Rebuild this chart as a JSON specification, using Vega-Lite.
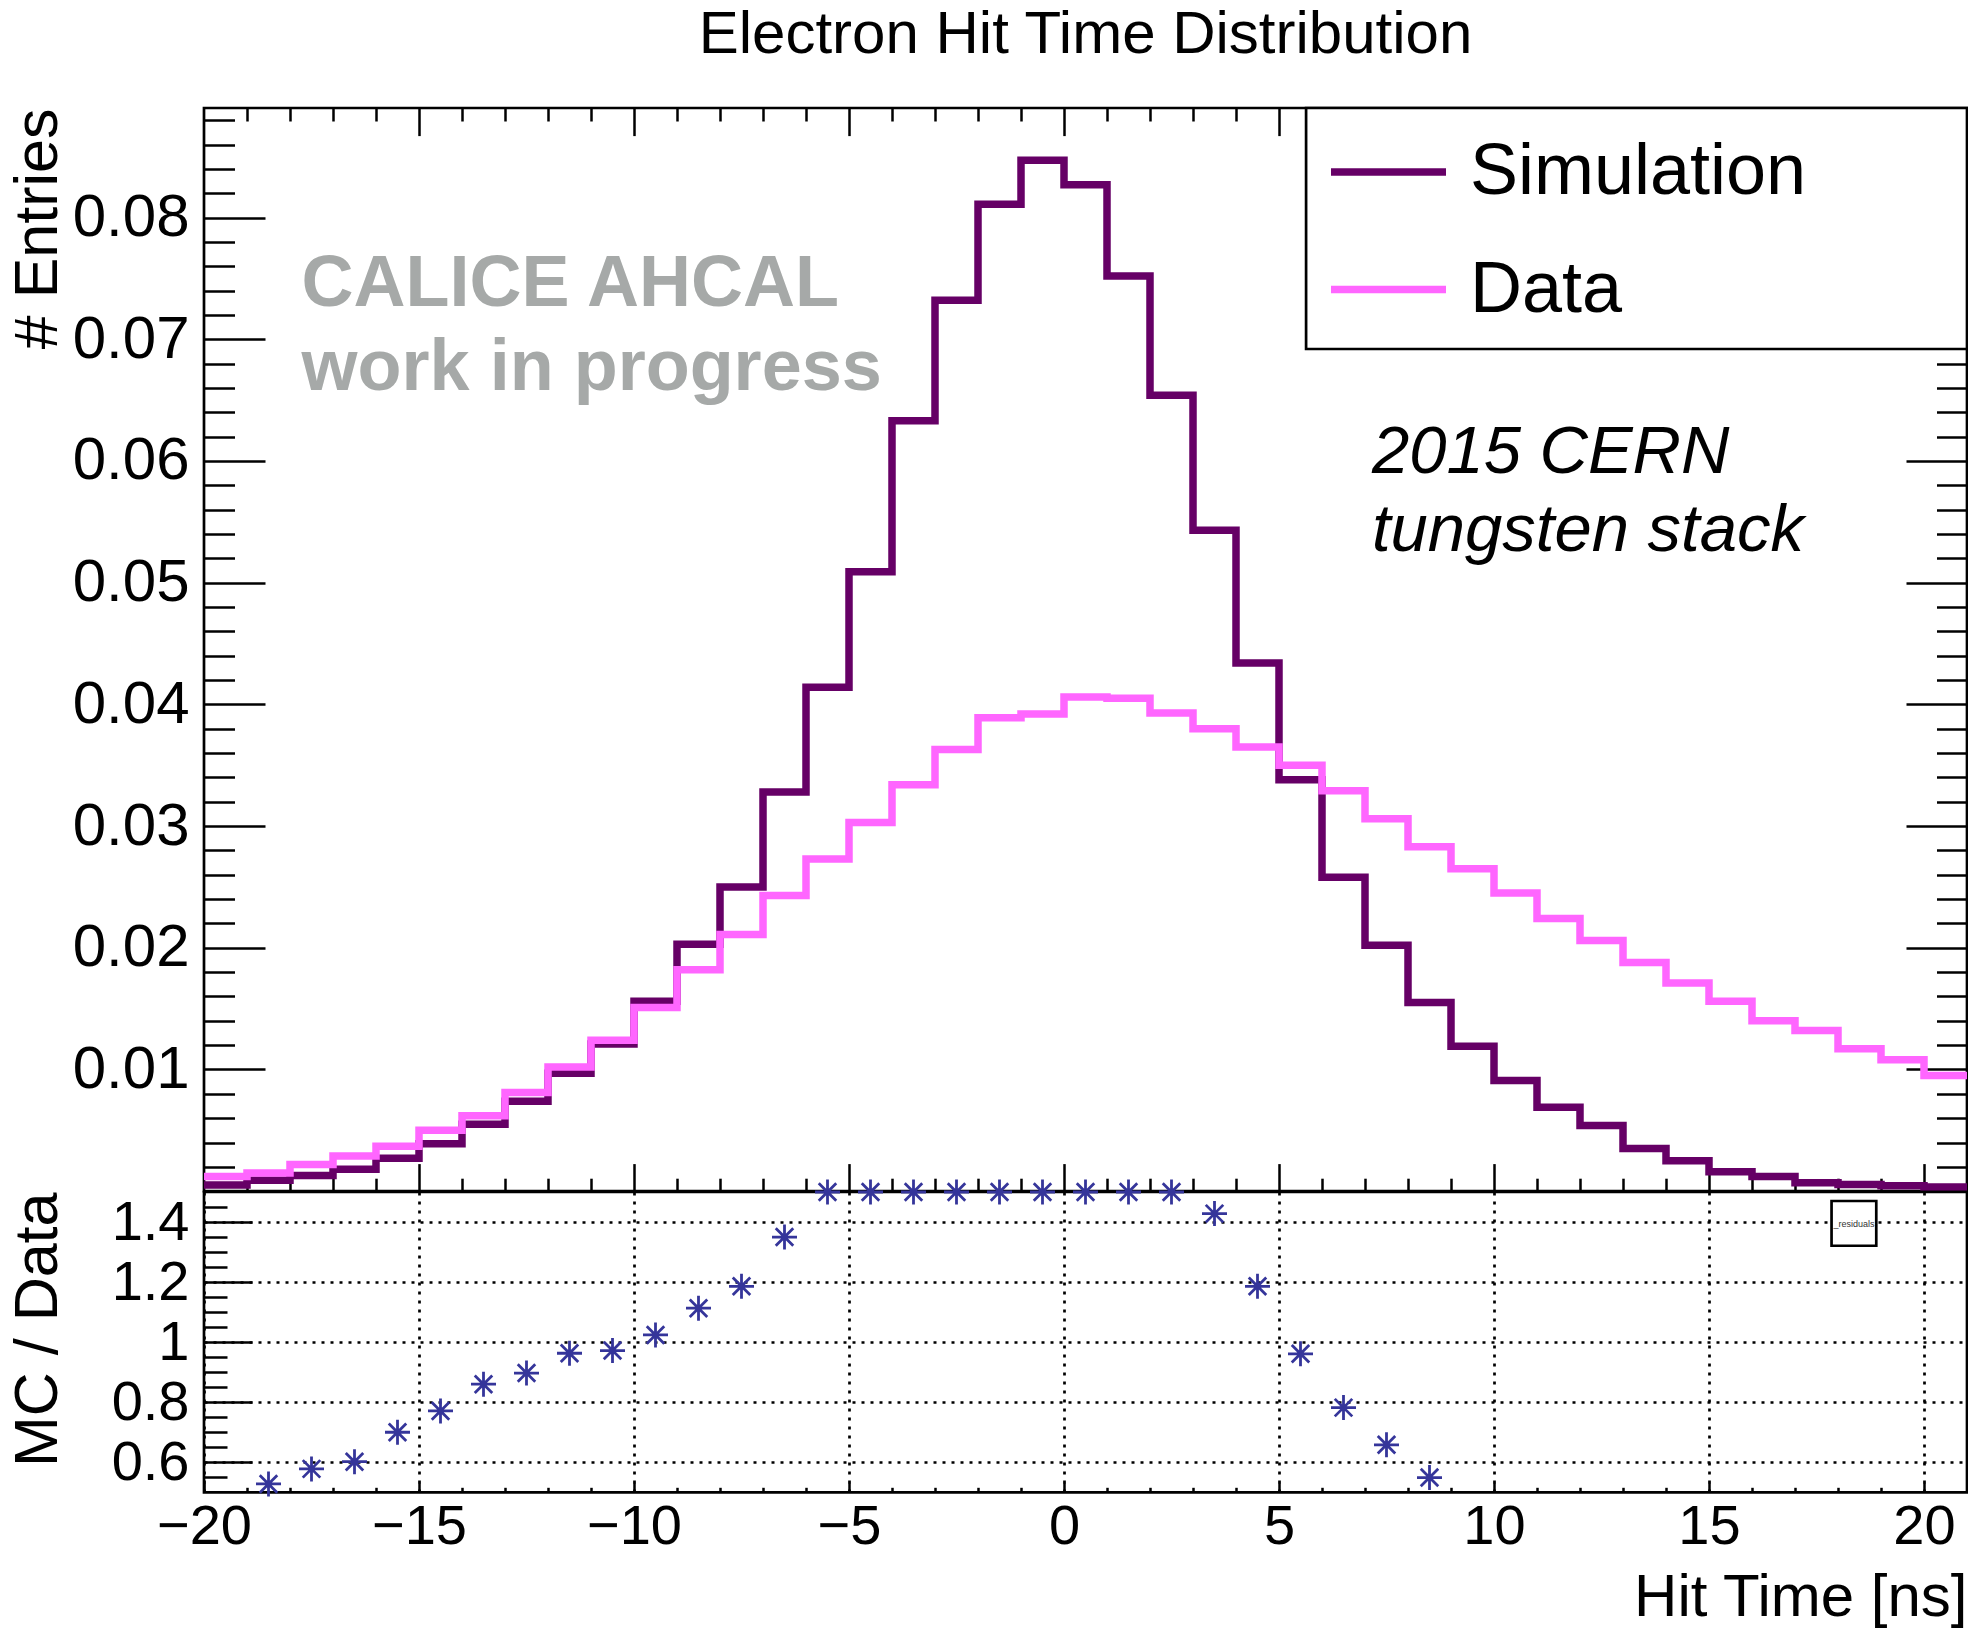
{
  "$schema": "https://vega.github.io/schema/vega-lite/v6.json",
  "background": "white",
  "autosize": {"type": "pad"},
  "padding": {"left": 5, "top": 3, "right": 0, "bottom": 0},
  "datasets": {
    "hist": [
      {"t": -20, "series": "Simulation", "value": 0.0005},
      {"t": -19, "series": "Simulation", "value": 0.0009},
      {"t": -18, "series": "Simulation", "value": 0.0013},
      {"t": -17, "series": "Simulation", "value": 0.0018},
      {"t": -16, "series": "Simulation", "value": 0.0027},
      {"t": -15, "series": "Simulation", "value": 0.0039},
      {"t": -14, "series": "Simulation", "value": 0.0055},
      {"t": -13, "series": "Simulation", "value": 0.0074},
      {"t": -12, "series": "Simulation", "value": 0.0097},
      {"t": -11, "series": "Simulation", "value": 0.0121},
      {"t": -10, "series": "Simulation", "value": 0.0156},
      {"t": -9, "series": "Simulation", "value": 0.0203},
      {"t": -8, "series": "Simulation", "value": 0.0250},
      {"t": -7, "series": "Simulation", "value": 0.0328},
      {"t": -6, "series": "Simulation", "value": 0.0414},
      {"t": -5, "series": "Simulation", "value": 0.0509},
      {"t": -4, "series": "Simulation", "value": 0.0633},
      {"t": -3, "series": "Simulation", "value": 0.0732},
      {"t": -2, "series": "Simulation", "value": 0.0811},
      {"t": -1, "series": "Simulation", "value": 0.0847},
      {"t": 0, "series": "Simulation", "value": 0.0827},
      {"t": 1, "series": "Simulation", "value": 0.0752},
      {"t": 2, "series": "Simulation", "value": 0.0654},
      {"t": 3, "series": "Simulation", "value": 0.0543},
      {"t": 4, "series": "Simulation", "value": 0.0434},
      {"t": 5, "series": "Simulation", "value": 0.0338},
      {"t": 6, "series": "Simulation", "value": 0.0258},
      {"t": 7, "series": "Simulation", "value": 0.0202},
      {"t": 8, "series": "Simulation", "value": 0.0155},
      {"t": 9, "series": "Simulation", "value": 0.0119},
      {"t": 10, "series": "Simulation", "value": 0.0091},
      {"t": 11, "series": "Simulation", "value": 0.0069},
      {"t": 12, "series": "Simulation", "value": 0.0054},
      {"t": 13, "series": "Simulation", "value": 0.0035},
      {"t": 14, "series": "Simulation", "value": 0.0025},
      {"t": 15, "series": "Simulation", "value": 0.0016},
      {"t": 16, "series": "Simulation", "value": 0.0012},
      {"t": 17, "series": "Simulation", "value": 0.0007},
      {"t": 18, "series": "Simulation", "value": 0.00055},
      {"t": 19, "series": "Simulation", "value": 0.00045},
      {"t": 20, "series": "Simulation", "value": 0.00035},
      {"t": 21, "series": "Simulation", "value": 0.00035},
      {"t": -20, "series": "Data", "value": 0.0012},
      {"t": -19, "series": "Data", "value": 0.0015},
      {"t": -18, "series": "Data", "value": 0.0022},
      {"t": -17, "series": "Data", "value": 0.0029},
      {"t": -16, "series": "Data", "value": 0.0037},
      {"t": -15, "series": "Data", "value": 0.0050},
      {"t": -14, "series": "Data", "value": 0.0062},
      {"t": -13, "series": "Data", "value": 0.0081},
      {"t": -12, "series": "Data", "value": 0.0102},
      {"t": -11, "series": "Data", "value": 0.0124},
      {"t": -10, "series": "Data", "value": 0.0151},
      {"t": -9, "series": "Data", "value": 0.0182},
      {"t": -8, "series": "Data", "value": 0.0211},
      {"t": -7, "series": "Data", "value": 0.0243},
      {"t": -6, "series": "Data", "value": 0.0273},
      {"t": -5, "series": "Data", "value": 0.0303},
      {"t": -4, "series": "Data", "value": 0.0334},
      {"t": -3, "series": "Data", "value": 0.0363},
      {"t": -2, "series": "Data", "value": 0.0389},
      {"t": -1, "series": "Data", "value": 0.0392},
      {"t": 0, "series": "Data", "value": 0.0406},
      {"t": 1, "series": "Data", "value": 0.0405},
      {"t": 2, "series": "Data", "value": 0.0393},
      {"t": 3, "series": "Data", "value": 0.0380},
      {"t": 4, "series": "Data", "value": 0.0365},
      {"t": 5, "series": "Data", "value": 0.0350},
      {"t": 6, "series": "Data", "value": 0.0329},
      {"t": 7, "series": "Data", "value": 0.0306},
      {"t": 8, "series": "Data", "value": 0.0283},
      {"t": 9, "series": "Data", "value": 0.0265},
      {"t": 10, "series": "Data", "value": 0.0245},
      {"t": 11, "series": "Data", "value": 0.0224},
      {"t": 12, "series": "Data", "value": 0.0206},
      {"t": 13, "series": "Data", "value": 0.0188},
      {"t": 14, "series": "Data", "value": 0.0171},
      {"t": 15, "series": "Data", "value": 0.0156},
      {"t": 16, "series": "Data", "value": 0.0140},
      {"t": 17, "series": "Data", "value": 0.0132},
      {"t": 18, "series": "Data", "value": 0.0117},
      {"t": 19, "series": "Data", "value": 0.0108},
      {"t": 20, "series": "Data", "value": 0.0095},
      {"t": 21, "series": "Data", "value": 0.0095}
    ],
    "ratio": [
      {"t": -18.5, "r": 0.528},
      {"t": -17.5, "r": 0.578},
      {"t": -16.5, "r": 0.602},
      {"t": -15.5, "r": 0.700},
      {"t": -14.5, "r": 0.771},
      {"t": -13.5, "r": 0.860},
      {"t": -12.5, "r": 0.897},
      {"t": -11.5, "r": 0.963},
      {"t": -10.5, "r": 0.972},
      {"t": -9.5, "r": 1.024},
      {"t": -8.5, "r": 1.113},
      {"t": -7.5, "r": 1.186},
      {"t": -6.5, "r": 1.350},
      {"t": -5.5, "r": 1.5},
      {"t": -4.5, "r": 1.5},
      {"t": -3.5, "r": 1.5},
      {"t": -2.5, "r": 1.5},
      {"t": -1.5, "r": 1.5},
      {"t": -0.5, "r": 1.5},
      {"t": 0.5, "r": 1.5},
      {"t": 1.5, "r": 1.5},
      {"t": 2.5, "r": 1.5},
      {"t": 3.5, "r": 1.428},
      {"t": 4.5, "r": 1.186},
      {"t": 5.5, "r": 0.961},
      {"t": 6.5, "r": 0.782},
      {"t": 7.5, "r": 0.658},
      {"t": 8.5, "r": 0.549}
    ]
  },
  "spacing": 0,
  "bounds": "flush",
  "resolve": {"scale": {"color": "independent"}},
  "vconcat": [
    {
      "width": 1763,
      "height": 1083.2,
      "title": {"text": "Electron Hit Time Distribution", "fontSize": 60, "font": "Liberation Sans", "fontWeight": "normal", "color": "black", "anchor": "middle", "frame": "group", "offset": 41},
      "resolve": {"axis": {"x": "independent", "y": "independent"}},
      "layer": [
        {
          "data": {"name": "hist"},
          "transform": [{"filter": "datum.series === 'Simulation'"}],
          "mark": {"type": "line", "interpolate": "step-after", "strokeWidth": 7.5, "strokeJoin": "miter", "clip": true},
          "encoding": {
            "x": {"field": "t", "type": "quantitative", "scale": {"domain": [-20, 21], "nice": false, "zero": false},
                  "axis": {"orient": "bottom", "values": [-15, -10, -5, 0, 5, 10, 15, 20], "tickSize": -27.6, "labels": false, "title": null}},
            "y": {"field": "value", "type": "quantitative", "scale": {"domain": [0, 0.089], "nice": false, "zero": false},
                  "axis": {"orient": "left", "values": [0.01, 0.02, 0.03, 0.04, 0.05, 0.06, 0.07, 0.08], "tickSize": -61, "labelPadding": 76, "labelFontSize": 60, "format": ".2f",
                           "title": "# Entries", "titleFontSize": 61, "titleAngle": 270, "titleAlign": "right", "titleBaseline": "alphabetic", "titleX": -148, "titleY": 0}},
            "color": {"field": "series", "type": "nominal",
                      "scale": {"domain": ["Simulation", "Data"], "range": ["#660066", "#ff66ff"]},
                      "legend": {"title": null, "orient": "none", "legendX": 1123, "legendY": 2.5, "padding": 0, "symbolType": "stroke", "symbolSize": 13225, "symbolStrokeWidth": 7.5, "labelFontSize": 72, "labelFont": "Liberation Sans", "labelColor": "black", "labelOffset": 20, "rowPadding": 19.6, "labelLimit": 1000}}
          }
        },
        {
          "data": {"name": "hist"},
          "transform": [{"filter": "datum.series === 'Data'"}],
          "mark": {"type": "line", "interpolate": "step-after", "strokeWidth": 7.5, "strokeJoin": "miter", "clip": true},
          "encoding": {
            "x": {"field": "t", "type": "quantitative", "scale": {"domain": [-20, 21], "nice": false, "zero": false},
                  "axis": {"orient": "bottom", "values": [-19, -18, -17, -16, -14, -13, -12, -11, -9, -8, -7, -6, -4, -3, -2, -1, 1, 2, 3, 4, 6, 7, 8, 9, 11, 12, 13, 14, 16, 17, 18, 19], "tickSize": -13, "labels": false, "title": null}},
            "y": {"field": "value", "type": "quantitative", "scale": {"domain": [0, 0.089], "nice": false, "zero": false},
                  "axis": {"orient": "left", "values": [0.002, 0.004, 0.006, 0.008, 0.012, 0.014, 0.016, 0.018, 0.022, 0.024, 0.026, 0.028, 0.032, 0.034, 0.036, 0.038, 0.042, 0.044, 0.046, 0.048, 0.052, 0.054, 0.056, 0.058, 0.062, 0.064, 0.066, 0.068, 0.072, 0.074, 0.076, 0.078, 0.082, 0.084, 0.086, 0.088], "tickSize": -30.5, "labels": false, "title": null}},
            "color": {"field": "series", "type": "nominal", "scale": {"domain": ["Simulation", "Data"], "range": ["#660066", "#ff66ff"]}}
          }
        },
        {
          "data": {"values": [{}]},
          "mark": {"type": "text", "text": ["CALICE AHCAL", "work in progress"], "align": "left", "baseline": "alphabetic", "font": "Liberation Sans", "fontWeight": "bold", "fontSize": 72, "lineHeight": 84, "color": "#a6a9a8"},
          "encoding": {
            "x": {"datum": -17.73, "type": "quantitative", "axis": {"orient": "top", "values": [-15, -10, -5, 0, 5, 10, 15, 20], "tickSize": -27.6, "labels": false, "title": null}},
            "y": {"datum": 0.0727, "type": "quantitative", "axis": {"orient": "right", "values": [0.01, 0.02, 0.03, 0.04, 0.05, 0.06, 0.07, 0.08], "tickSize": -61, "labels": false, "title": null}}
          }
        },
        {
          "data": {"values": [{}]},
          "mark": {"type": "text", "text": ["2015 CERN", "tungsten stack"], "align": "left", "baseline": "alphabetic", "font": "Liberation Sans", "fontStyle": "italic", "fontSize": 67, "lineHeight": 78, "color": "black"},
          "encoding": {
            "x": {"datum": 7.16, "type": "quantitative", "axis": {"orient": "top", "values": [-19, -18, -17, -16, -14, -13, -12, -11, -9, -8, -7, -6, -4, -3, -2, -1, 1, 2, 3, 4, 6, 7, 8, 9, 11, 12, 13, 14, 16, 17, 18, 19], "tickSize": -13, "labels": false, "title": null}},
            "y": {"datum": 0.059, "type": "quantitative", "axis": {"orient": "right", "values": [0.002, 0.004, 0.006, 0.008, 0.012, 0.014, 0.016, 0.018, 0.022, 0.024, 0.026, 0.028, 0.032, 0.034, 0.036, 0.038, 0.042, 0.044, 0.046, 0.048, 0.052, 0.054, 0.056, 0.058, 0.062, 0.064, 0.066, 0.068, 0.072, 0.074, 0.076, 0.078, 0.082, 0.084, 0.086, 0.088], "tickSize": -30.5, "labels": false, "title": null}}
          }
        },
        {
          "data": {"values": [{}]},
          "mark": {"type": "rect", "fill": "white", "stroke": "black", "strokeWidth": 2.7},
          "encoding": {
            "x": {"datum": 5.63, "type": "quantitative", "axis": null},
            "x2": {"datum": 21},
            "y": {"datum": 0.0692, "type": "quantitative", "axis": null},
            "y2": {"datum": 0.089}
          }
        }
      ]
    },
    {
      "width": 1763,
      "height": 300.3,
      "resolve": {"axis": {"x": "independent", "y": "independent"}},
      "layer": [
        {
          "data": {"name": "ratio"},
          "mark": {"type": "point", "shape": "M0,-1L0,1M-1,0L1,0M-0.7,-0.7L0.7,0.7M-0.7,0.7L0.7,-0.7", "filled": false, "size": 625, "strokeWidth": 2.8, "color": "#35359a", "opacity": 1},
          "encoding": {
            "x": {"field": "t", "type": "quantitative", "scale": {"domain": [-20, 21], "nice": false, "zero": false},
                  "axis": {"orient": "bottom", "values": [-20, -15, -10, -5, 0, 5, 10, 15, 20], "grid": true, "tickSize": -10, "labelPadding": 17, "labelFontSize": 56, "format": "d",
                           "title": "Hit Time [ns]", "titleFontSize": 60, "titleAlign": "right", "titleBaseline": "alphabetic", "titleAnchor": "end", "titleX": 1763, "titleY": 123}},
            "y": {"field": "r", "type": "quantitative", "scale": {"domain": [0.5, 1.5], "nice": false, "zero": false},
                  "axis": {"orient": "left", "values": [0.6, 0.8, 1, 1.2, 1.4], "grid": true, "tickSize": -48, "labelPadding": 63, "labelFontSize": 56, "format": ".1~f",
                           "title": "MC / Data", "titleFontSize": 61, "titleAngle": 270, "titleAlign": "right", "titleBaseline": "alphabetic", "titleX": -148, "titleY": 0}}
          }
        },
        {
          "data": {"values": [{}]},
          "mark": {"type": "rect", "fill": "white", "stroke": "black", "strokeWidth": 2.7},
          "encoding": {
            "x": {"datum": 17.85, "type": "quantitative", "axis": {"orient": "bottom", "values": [-19, -18, -17, -16, -14, -13, -12, -11, -9, -8, -7, -6, -4, -3, -2, -1, 1, 2, 3, 4, 6, 7, 8, 9, 11, 12, 13, 14, 16, 17, 18, 19], "tickSize": -5, "labels": false, "title": null, "grid": false}},
            "x2": {"datum": 18.89},
            "y": {"datum": 1.321, "type": "quantitative", "axis": {"orient": "left", "values": [0.55, 0.65, 0.7, 0.75, 0.85, 0.9, 0.95, 1.05, 1.1, 1.15, 1.25, 1.3, 1.35, 1.45], "tickSize": -23, "labels": false, "title": null, "grid": false}},
            "y2": {"datum": 1.47}
          }
        },
        {
          "data": {"values": [{}]},
          "mark": {"type": "text", "text": "_residuals", "align": "center", "baseline": "middle", "fontSize": 9, "font": "Liberation Sans", "color": "#333333"},
          "encoding": {
            "x": {"datum": 18.37, "type": "quantitative", "axis": null},
            "y": {"datum": 1.394, "type": "quantitative", "axis": null}
          }
        }
      ]
    }
  ],
  "config": {
    "font": "Liberation Sans",
    "view": {"stroke": "black", "strokeWidth": 2.7},
    "axis": {
      "domain": false,
      "grid": false,
      "tickColor": "black",
      "tickWidth": 2.5,
      "labelColor": "black",
      "labelFont": "Liberation Sans",
      "labelFontSize": 60,
      "titleFont": "Liberation Sans",
      "titleFontWeight": "normal",
      "titleColor": "black",
      "labelFlush": false,
      "labelOverlap": false,
      "gridColor": "black",
      "gridDash": [3, 6],
      "gridWidth": 2.7,
      "gridOpacity": 1
    }
  }
}
